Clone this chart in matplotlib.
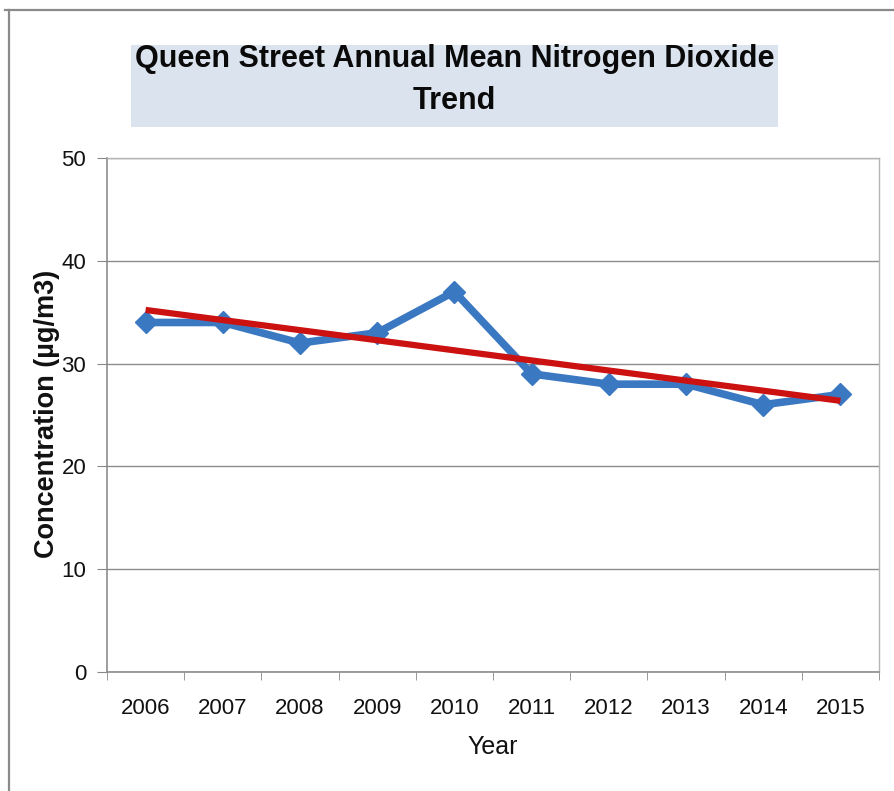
import numpy as np
import matplotlib
matplotlib.use("Agg")
import matplotlib.pyplot as plt
from matplotlib.patches import Rectangle
from matplotlib.lines import Line2D
from matplotlib import font_manager as fm

years = ["2006", "2007", "2008", "2009", "2010", "2011", "2012", "2013", "2014", "2015"]
no2 = [34, 34, 32, 33, 37, 29, 28, 28, 26, 27]
y_ticks = [0, 10, 20, 30, 40, 50]
title = "Queen Street Annual Mean Nitrogen Dioxide\nTrend"
x_label = "Year"
y_label = "Concentration (µg/m3)"

names = {f.name for f in fm.fontManager.ttflist}
narrow = "Liberation Sans Narrow" if "Liberation Sans Narrow" in names else "Liberation Sans"

fig = plt.figure(figsize=(8.94, 7.91), dpi=100)
fig.patch.set_facecolor("white")

# outer frame lines
fig.add_artist(Line2D([9/894, 9/894], [0, 1 - 10/791], color="#8a8a8a", lw=1.6))
fig.add_artist(Line2D([5/894, 1], [1 - 10/791, 1 - 10/791], color="#8a8a8a", lw=1.6))

# title box
bx0, bx1 = 131/894, 778/894
by0, by1 = 1 - 127/791, 1 - 45/791
fig.add_artist(Rectangle((bx0, by0), bx1 - bx0, by1 - by0, transform=fig.transFigure,
                         facecolor="#dbe3ee", edgecolor="none"))
fig.text((bx0 + bx1) / 2, 1 - 80/791, title, ha="center", va="center",
         fontsize=22, fontweight="bold", family=[narrow, "DejaVu Sans"],
         linespacing=1.5, color="#0a0a0a")

ax = fig.add_axes([107/894, 1 - 672/791, (879 - 107)/894, (672 - 158)/791])
x = np.arange(len(years))
ax.plot(x, no2, color="#3b78c2", lw=5.5, marker="D", markersize=11,
        markerfacecolor="#3b78c2", markeredgecolor="#3b78c2", zorder=3, solid_joinstyle="round")
coef = np.polyfit(x, no2, 1)
ax.plot(x, np.polyval(coef, x), color="#cc1111", lw=4.5, zorder=4, solid_capstyle="butt")

ax.set_xlim(-0.5, len(years) - 0.5)
ax.set_ylim(0, 50)
ax.set_yticks(y_ticks)
ax.set_yticklabels([str(v) for v in y_ticks], family=[narrow, "DejaVu Sans"], fontsize=16)
ax.set_xticks(x)
ax.set_xticklabels(years, family=[narrow, "DejaVu Sans"], fontsize=16)
ax.set_xticks(np.arange(-0.5, len(years)), minor=True)
ax.tick_params(axis="x", which="major", length=0, pad=19, colors="#111111")
ax.tick_params(axis="x", which="minor", length=6, color="#888888", direction="out")
ax.tick_params(axis="y", length=7, color="#888888", direction="out", pad=8, colors="#111111")
ax.tick_params(axis="y", color="#888888")

ax.yaxis.grid(True, color="#8c8c8c", lw=1.0)
ax.set_axisbelow(True)
for s in ["left", "bottom"]:
    ax.spines[s].set_color("#8c8c8c")
    ax.spines[s].set_linewidth(1.2)
for s in ["top", "right"]:
    ax.spines[s].set_color("#b5b5b5")
    ax.spines[s].set_linewidth(1.0)

ax.set_xlabel(x_label, family=[narrow, "DejaVu Sans"], fontsize=18, color="#111111")
ax.xaxis.set_label_coords((493 - 107) / (879 - 107), -(747 - 672) / (672 - 158))
ax.xaxis.label.set_va("center")
ax.set_ylabel(y_label, family=["Liberation Sans", "DejaVu Sans"], fontsize=19.5,
              fontweight="bold", color="#111111")
ax.yaxis.set_label_coords(-(107 - 47) / (879 - 107), (672 - 414) / (672 - 158))
ax.yaxis.label.set_va("center")

fig.savefig("out.png", dpi=100, facecolor="white")
